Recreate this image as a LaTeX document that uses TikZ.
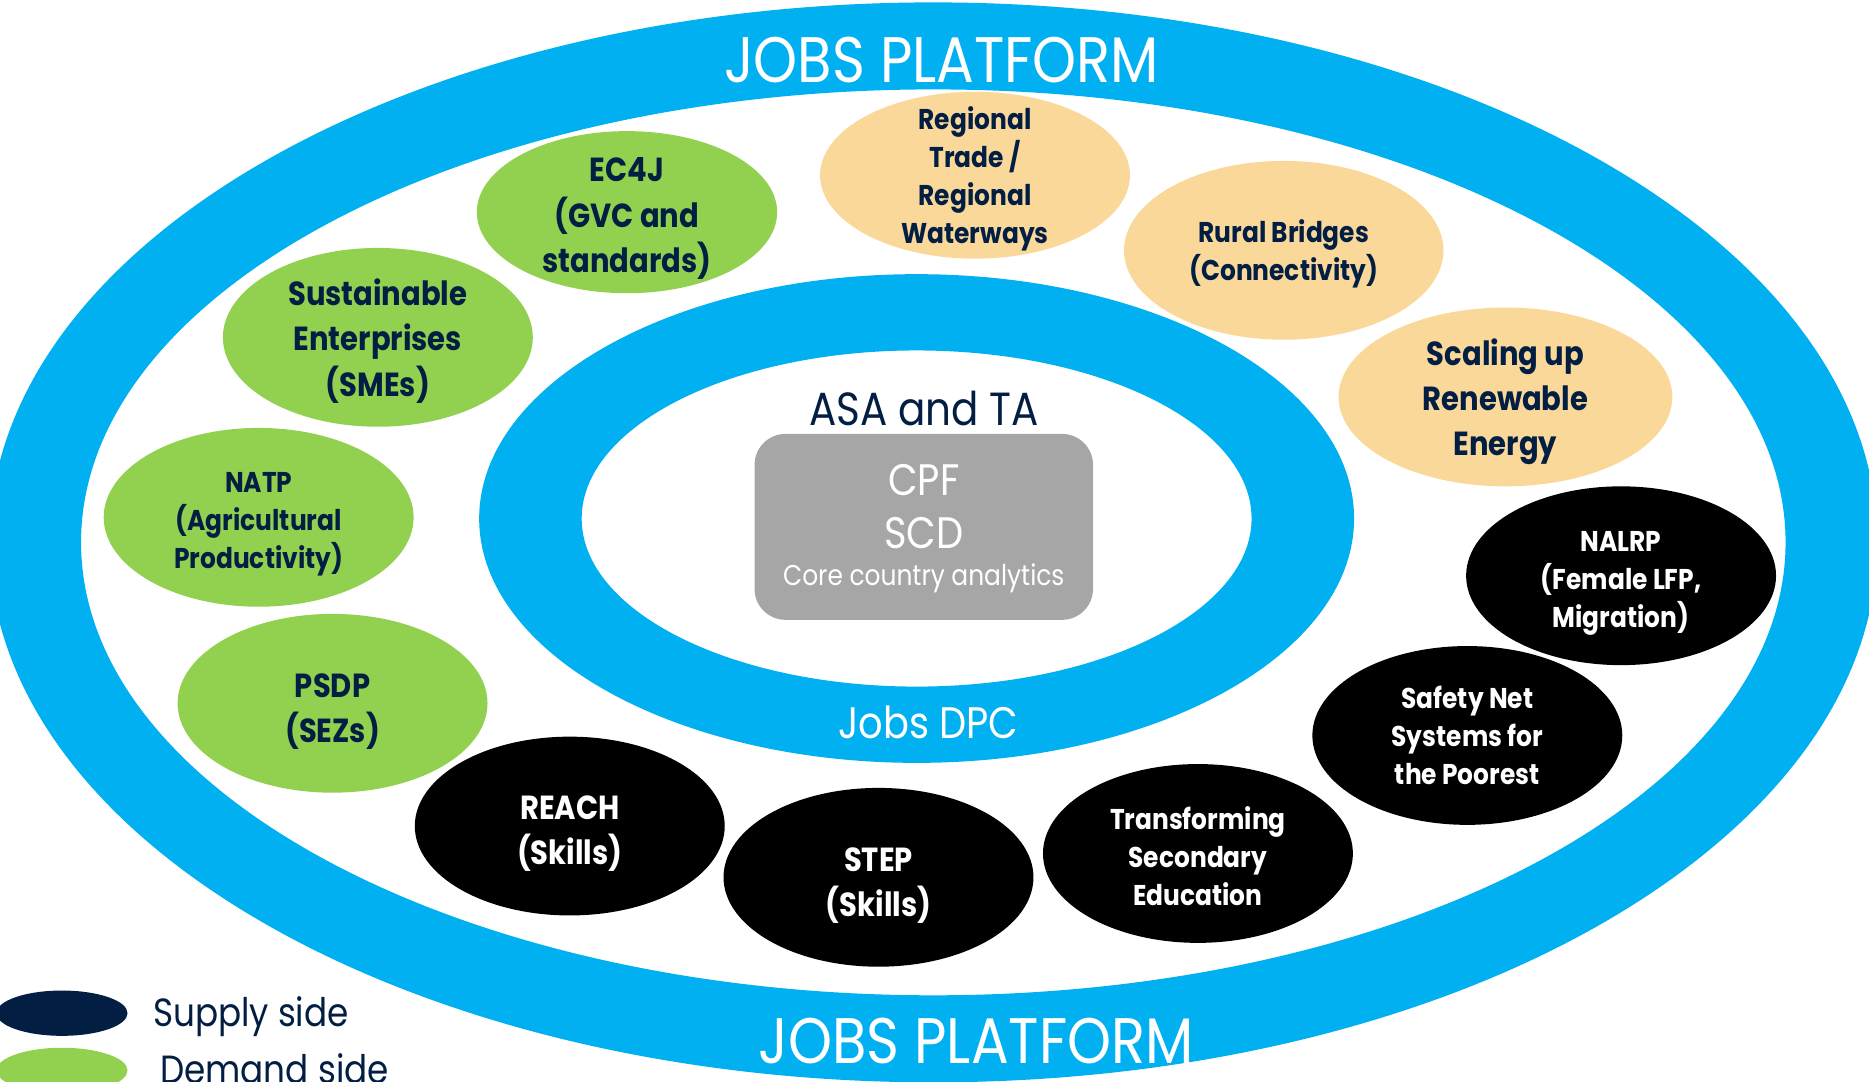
\documentclass[tikz,border=0pt]{standalone}
\usepackage{fontspec}
\setmainfont{Poppins}[FakeStretch=0.87]
\usetikzlibrary{shapes,positioning}

\definecolor{ringblue}{RGB}{0,176,240}
\definecolor{demandgreen}{RGB}{146,208,80}
\definecolor{infrapeach}{RGB}{250,216,154}
\definecolor{navy}{RGB}{2,30,66}
\definecolor{coregray}{RGB}{166,166,166}

% taller first line, pushes the text block down a little
\newcommand{\projtop}[1]{\rule{0pt}{#1}}

\begin{document}
\begin{tikzpicture}[x=0.5pt,y=-0.5pt]

	\tikzstyle{project}=[ellipse,draw=none,align=center,inner xsep=0pt,inner ysep=-3pt,
		minimum width=130pt,minimum height=75pt,text depth=-2pt,
		font=\bfseries\fontsize{12}{16}\selectfont]
	\tikzstyle{big}=[font=\bfseries\fontsize{14}{19}\selectfont]
	\tikzstyle{demand}=[project,fill=demandgreen,text=navy]
	\tikzstyle{infra}=[project,fill=infrapeach,text=navy]
	\tikzstyle{supply}=[project,fill=black,text=white]
	\tikzstyle{ringlabel}=[text=white,font=\fontsize{27}{30}\selectfont]
	\tikzstyle{legendtext}=[text=navy,anchor=base west,inner sep=0pt,font=\fontsize{16.5}{20}\selectfont]

	\useasboundingbox (0,0) rectangle (1568,907);
	\clip (0,0) rectangle (1568,907);

	% rings
	\fill[ringblue,even odd rule] (783,455) ellipse [x radius=792,y radius=453]
		(783,455) ellipse [x radius=715,y radius=380];
	\fill[ringblue,even odd rule] (769,435) ellipse [x radius=367,y radius=205]
		(769,435) ellipse [x radius=281,y radius=141];

	\node[ringlabel](toplabel) at (790,50){JOBS PLATFORM};
	\node[ringlabel](bottomlabel) at (819,873){JOBS PLATFORM};
	\node[text=white,font=\fontsize{18.5}{22}\selectfont](dpc) at (779,606){Jobs DPC};

	% core
	\node[rectangle,rounded corners=13pt,fill=coregray,minimum width=142pt,minimum height=78pt](core) at (775,442){};
	\node[text=navy,font=\fontsize{19.5}{22}\selectfont,above=-0.5pt of core](asa){ASA and TA};
	\node[text=white,align=center,font=\fontsize{18.5}{22}\selectfont](cpf) at (775,425){CPF\\ SCD};
	\node[text=white,font=\fontsize{12}{14}\selectfont](analytics) at (775,485){Core country analytics};

	% projects
	\node[demand,big,minimum width=126pt,minimum height=68pt](ec4j) at (526,178){\projtop{12.5pt}EC4J\\ (GVC and\\ standards)};
	\node[demand,big](sme) at (317,283){Sustainable\\ Enterprises\\ (SMEs)};
	\node[demand](natp) at (217,434){\projtop{11pt}NATP\\ (Agricultural\\ Productivity)};
	\node[demand,big](psdp) at (279,590){\projtop{14pt}PSDP\\ (SEZs)};
	\node[supply,big](reach) at (478,693){\projtop{13.5pt}REACH\\ (Skills)};
	\node[supply,big](step) at (737,736){\projtop{14pt}STEP\\ (Skills)};
	\node[supply](secondary) at (1005,716){\projtop{11.5pt}Transforming\\ Secondary\\ Education};
	\node[supply](safetynet) at (1231,617){Safety Net\\ Systems for\\ the Poorest};
	\node[supply](nalrp) at (1360,483){\projtop{11.5pt}NALRP\\ (Female LFP,\\ Migration)};
	\node[infra,big,minimum width=140pt](renewable) at (1263,333){Scaling up\\ Renewable\\ Energy};
	\node[infra,minimum width=134pt](bridges) at (1077,210){Rural Bridges\\ (Connectivity)};
	\node[infra,minimum height=70pt,inner ysep=-6pt](trade) at (818,147){Regional\\ Trade /\\ Regional\\ Waterways};

	% legend
	\node[ellipse,fill=navy,minimum width=55pt,minimum height=19pt](supplykey) at (52,850){};
	\node[ellipse,fill=demandgreen,minimum width=55pt,minimum height=19pt](demandkey) at (52,898){};
	\node[legendtext](supplytext) at (128,861){Supply side};
	\node[legendtext](demandtext) at (134,909){Demand side};

\end{tikzpicture}
\end{document}
